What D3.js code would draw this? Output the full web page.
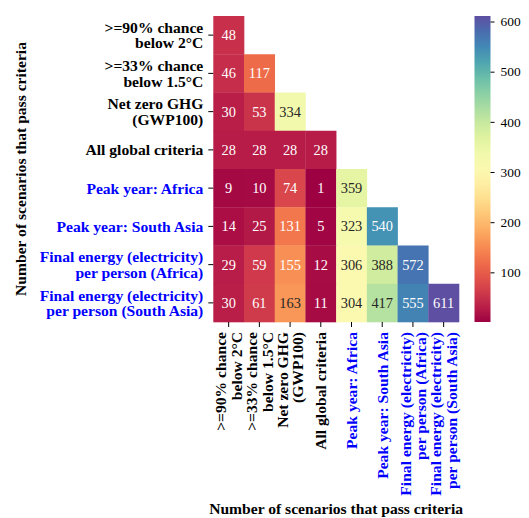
<!DOCTYPE html>
<html>
<head>
<meta charset="utf-8">
<script src="https://cdn.jsdelivr.net/npm/d3@7"></script>
<style>
  html, body { margin: 0; padding: 0; background: #fff; }
  svg { display: block; font-family: "Liberation Serif", "Times New Roman", serif; }
</style>
</head>
<body>
<svg id="chart" width="529" height="518"></svg>
<script>
// Criteria compared pairwise (rows and columns share the same order)
const criteria = [
  ">=90% chance\nbelow 2°C",
  ">=33% chance\nbelow 1.5°C",
  "Net zero GHG\n(GWP100)",
  "All global criteria",
  "Peak year: Africa",
  "Peak year: South Asia",
  "Final energy (electricity)\nper person (Africa)",
  "Final energy (electricity)\nper person (South Asia)"
];
// Global criteria are drawn in black, regional ones in blue
const criteriaGroup = ["global", "global", "global", "global", "regional", "regional", "regional", "regional"];

// Lower-triangle counts: number of scenarios passing both criteria
const row0 = [48];
const row1 = [46, 117];
const row2 = [30, 53, 334];
const row3 = [28, 28, 28, 28];
const row4 = [9, 10, 74, 1, 359];
const row5 = [14, 25, 131, 5, 323, 540];
const row6 = [29, 59, 155, 12, 306, 388, 572];
const row7 = [30, 61, 163, 11, 304, 417, 555, 611];
const counts = [row0, row1, row2, row3, row4, row5, row6, row7];

const colorbarTicks = [100, 200, 300, 400, 500, 600];
const axisTitle = "Number of scenarios that pass criteria";

const groupColor = { global: "#000000", regional: "#0000ff" };

const cells = [];
counts.forEach((row, i) => row.forEach((v, j) => cells.push({ i, j, v })));
const allValues = cells.map(d => d.v);

const svg = d3.select("#chart");

const heat = { left: 213.3, right: 459, top: 16, bottom: 322 };
const idx = d3.range(criteria.length);
const x = d3.scaleBand().domain(idx).range([heat.left, heat.right]).padding(0);
const y = d3.scaleBand().domain(idx).range([heat.top, heat.bottom]).padding(0);
const color = d3.scaleSequential(d3.interpolateSpectral)
  .domain([d3.min(allValues), d3.max(allValues)]);

// Relative luminance decides light or dark annotation text
function luminance(c) {
  const rgb = d3.rgb(c);
  const lin = v => { v /= 255; return v <= 0.03928 ? v / 12.92 : Math.pow((v + 0.055) / 1.055, 2.4); };
  return 0.2126 * lin(rgb.r) + 0.7152 * lin(rgb.g) + 0.0722 * lin(rgb.b);
}

// Heatmap cells
svg.append("g").selectAll("rect").data(cells).join("rect")
  .attr("x", d => x(d.j))
  .attr("y", d => y(d.i))
  .attr("width", x.bandwidth() + 0.3)
  .attr("height", y.bandwidth() + 0.3)
  .attr("fill", d => color(d.v));

// Cell annotations
svg.append("g").selectAll("text").data(cells).join("text")
  .attr("x", d => x(d.j) + x.bandwidth() / 2)
  .attr("y", d => y(d.i) + y.bandwidth() / 2)
  .attr("text-anchor", "middle")
  .attr("dominant-baseline", "central")
  .attr("font-size", "14.4px")
  .attr("fill", d => luminance(color(d.v)) > 0.408 ? "#262626" : "#ffffff")
  .text(d => d.v);

const labelSize = "15.6px";
const lineGap = 15.4;

// Y axis: ticks and multi-line right-aligned labels
const yAxis = svg.append("g");
idx.forEach(i => {
  const cy = y(i) + y.bandwidth() / 2;
  yAxis.append("line")
    .attr("x1", heat.left - 5).attr("x2", heat.left)
    .attr("y1", cy).attr("y2", cy)
    .attr("stroke", "#000").attr("stroke-width", 1);
  const lines = criteria[i].split("\n");
  const t = yAxis.append("text")
    .attr("text-anchor", "end")
    .attr("font-size", labelSize)
    .attr("font-weight", "bold")
    .attr("fill", groupColor[criteriaGroup[i]]);
  lines.forEach((ln, k) => {
    t.append("tspan")
      .attr("x", heat.left - 10)
      .attr("y", cy + (k - (lines.length - 1) / 2) * lineGap)
      .attr("dominant-baseline", "central")
      .text(ln);
  });
});

// X axis: ticks and rotated multi-line labels
const xAxis = svg.append("g");
idx.forEach(j => {
  const cx = x(j) + x.bandwidth() / 2;
  xAxis.append("line")
    .attr("x1", cx).attr("x2", cx)
    .attr("y1", heat.bottom).attr("y2", heat.bottom + 5)
    .attr("stroke", "#000").attr("stroke-width", 1);
  const lines = criteria[j].split("\n");
  const g = xAxis.append("g")
    .attr("transform", `translate(${cx},${heat.bottom + 10}) rotate(-90)`);
  const t = g.append("text")
    .attr("text-anchor", "end")
    .attr("font-size", labelSize)
    .attr("font-weight", "bold")
    .attr("fill", groupColor[criteriaGroup[j]]);
  lines.forEach((ln, k) => {
    t.append("tspan")
      .attr("x", 0)
      .attr("y", (k - (lines.length - 1) / 2) * lineGap)
      .attr("dominant-baseline", "central")
      .text(ln);
  });
});

// Axis titles
svg.append("text")
  .attr("x", (heat.left + heat.right) / 2)
  .attr("y", 514)
  .attr("text-anchor", "middle")
  .attr("font-size", labelSize)
  .attr("font-weight", "bold")
  .text(axisTitle);

svg.append("text")
  .attr("transform", `translate(26,${(heat.top + heat.bottom) / 2}) rotate(-90)`)
  .attr("text-anchor", "middle")
  .attr("font-size", labelSize)
  .attr("font-weight", "bold")
  .text(axisTitle);

// Colorbar
const cb = { left: 474.5, width: 16 };
const cbScale = d3.scaleLinear().domain(color.domain()).range([heat.bottom, heat.top]);
const defs = svg.append("defs");
const grad = defs.append("linearGradient")
  .attr("id", "cbGrad").attr("x1", 0).attr("y1", 1).attr("x2", 0).attr("y2", 0);
d3.range(0, 1.0001, 0.05).forEach(t => {
  grad.append("stop")
    .attr("offset", t)
    .attr("stop-color", d3.interpolateSpectral(t));
});
svg.append("rect")
  .attr("x", cb.left).attr("y", heat.top)
  .attr("width", cb.width).attr("height", heat.bottom - heat.top)
  .attr("fill", "url(#cbGrad)");

const cbAxis = d3.axisRight(cbScale).tickValues(colorbarTicks).tickSize(4).tickPadding(6);
const cbG = svg.append("g")
  .attr("transform", `translate(${cb.left + cb.width},0)`)
  .call(cbAxis);
cbG.select(".domain").remove();
cbG.selectAll("text")
  .attr("font-family", "Liberation Serif, Times New Roman, serif")
  .attr("font-size", "13.4px")
  .attr("fill", "#000");
cbG.selectAll("line").attr("stroke", "#000");
</script>
</body>
</html>
